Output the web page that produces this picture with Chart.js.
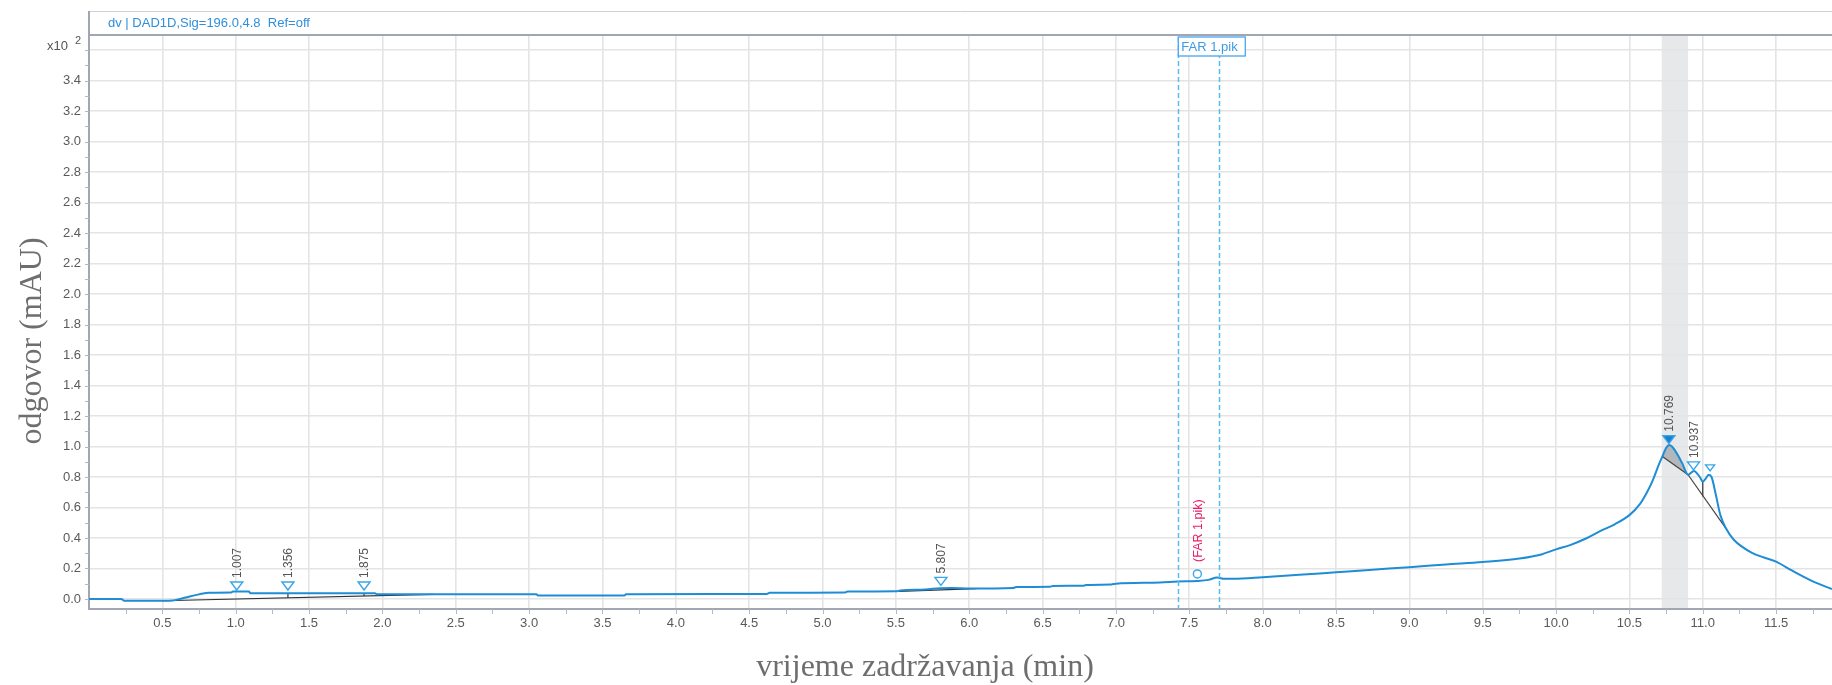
<!DOCTYPE html>
<html>
<head>
<meta charset="utf-8">
<script src="https://cdn.jsdelivr.net/npm/chart.js@4/dist/chart.umd.min.js"></script>
<style>
  html, body { margin: 0; padding: 0; background: #fff; }
  canvas { display: block; }
</style>
</head>
<body>
<canvas id="chrom" width="1832" height="685"></canvas>
<script>
// retention time (min) and detector response (x10^2 mAU)
const retentionTime = [
  0.00, 0.22, 0.24, 0.50, 0.57, 0.62, 0.68, 0.75, 0.82, 0.97,
  0.98, 1.09, 1.10, 1.95, 1.96, 3.05, 3.06, 3.65, 3.66, 4.62,
  4.64, 5.15, 5.17, 5.50, 5.53, 5.70, 5.80, 5.88, 6.00, 6.30,
  6.32, 6.55, 6.57, 6.78, 6.80, 6.97, 7.00, 7.30, 7.42, 7.55,
  7.63, 7.69, 7.74, 7.80, 8.00, 8.25, 8.50, 8.75, 9.00, 9.25,
  9.50, 9.75, 9.90, 10.00, 10.10, 10.20, 10.30, 10.40, 10.50, 10.57,
  10.62, 10.66, 10.70, 10.725, 10.75, 10.77, 10.79, 10.82, 10.86, 10.90,
  10.94, 10.98, 11.00, 11.02, 11.04, 11.06, 11.09, 11.12, 11.16, 11.21,
  11.34, 11.50, 11.61, 11.74, 11.88
];
const response = [
  0.000, 0.000, -0.012, -0.012, -0.010, 0.000, 0.015, 0.030, 0.041, 0.042,
  0.048, 0.048, 0.038, 0.038, 0.031, 0.031, 0.023, 0.023, 0.031, 0.032,
  0.040, 0.042, 0.048, 0.050, 0.056, 0.062, 0.070, 0.072, 0.068, 0.072,
  0.078, 0.080, 0.085, 0.087, 0.092, 0.095, 0.100, 0.108, 0.115, 0.118,
  0.125, 0.140, 0.132, 0.132, 0.142, 0.158, 0.175, 0.192, 0.208, 0.226,
  0.242, 0.265, 0.292, 0.325, 0.355, 0.395, 0.445, 0.490, 0.550, 0.620,
  0.700, 0.780, 0.880, 0.935, 0.990, 1.010, 1.000, 0.960, 0.890, 0.815,
  0.840, 0.800, 0.770, 0.790, 0.815, 0.800, 0.680, 0.550, 0.460, 0.390,
  0.300, 0.245, 0.185, 0.120, 0.065
];

// integration baselines [time, response]
const baselineA = [[0.50, -0.012], [2.35, 0.030]];
const baselineB = [[5.52, 0.050], [6.05, 0.068]];
const baselineC = [[10.725, 0.935], [10.90, 0.815]];
const baselineD = [[10.90, 0.815], [11.16, 0.460]];
// drop lines [time, top, bottom]
const dropLines = [[1.356, 0.038, 0.0075], [1.875, 0.038, 0.019], [11.0, 0.770, 0.672]];

// peak marks
const peakTimes = [1.007, 1.356, 1.875, 5.807, 10.769, 10.937, 11.05];
const peakMarkY = [0.085, 0.085, 0.085, 0.115, 1.045, 0.873, 0.86];
const peakLabels = ["1.007", "1.356", "1.875", "5.807", "10.769", "10.937", ""];

const farWindow = [7.425, 7.70];
const farPoint = [7.555, 0.164];
const shadedBand = [10.72, 10.90];
const integratedRange = [10.725, 10.90];

const BLUE = "#1f8dd6";
const SANS = "'Liberation Sans', Arial, sans-serif";
const SERIF = "'Liberation Serif', 'Times New Roman', serif";

const pts = (arr) => arr.map(([x, y]) => ({ x, y }));
const trace = retentionTime.map((t, i) => ({ x: t, y: response[i] }));
const peakArea = trace.filter((p) => p.x >= integratedRange[0] && p.x <= integratedRange[1]);

const lineStyle = (color, width) => ({
  borderColor: color,
  borderWidth: width,
  pointRadius: 0,
  fill: false,
  tension: 0,
});

const datasets = [
  { label: "signal", data: trace, ...lineStyle(BLUE, 2), cubicInterpolationMode: "monotone" },
  { label: "bA", data: pts(baselineA), ...lineStyle("#333", 1.2) },
  { label: "bB", data: pts(baselineB), ...lineStyle("#333", 1.2) },
  { label: "bC", data: pts(baselineC), ...lineStyle("#444", 1.2) },
  { label: "bD", data: pts(baselineD), ...lineStyle("#444", 1.2) },
  ...dropLines.map(([t, a, b]) => ({
    label: "drop",
    data: [{ x: t, y: a }, { x: t, y: b }],
    ...lineStyle("#333", 1.2),
  })),
  {
    label: "area",
    data: peakArea,
    borderColor: "rgba(0,0,0,0)",
    borderWidth: 0,
    pointRadius: 0,
    cubicInterpolationMode: "monotone",
    backgroundColor: "rgba(150,155,162,0.65)",
    fill: "shape",
  },
];

function triangle(ctx, x, y, w, h, filled) {
  ctx.beginPath();
  ctx.moveTo(x - w / 2, y - h / 2);
  ctx.lineTo(x + w / 2, y - h / 2);
  ctx.lineTo(x, y + h / 2);
  ctx.closePath();
  ctx.fillStyle = filled ? "#1a7fd0" : "#fff";
  ctx.fill();
  ctx.strokeStyle = "#3aa6e8";
  ctx.lineWidth = 1.4;
  ctx.stroke();
}

function vText(ctx, text, x, y, color, font) {
  ctx.save();
  ctx.translate(x, y);
  ctx.rotate(-Math.PI / 2);
  ctx.fillStyle = color;
  ctx.font = font;
  ctx.textAlign = "left";
  ctx.textBaseline = "middle";
  ctx.fillText(text, 0, 0);
  ctx.restore();
}

const decor = {
  id: "decor",
  beforeDraw(chart) {
    const { ctx, chartArea: a, scales } = chart;
    ctx.save();
    ctx.fillStyle = "#fff";
    ctx.fillRect(0, 0, chart.width, chart.height);
    const b0 = scales.x.getPixelForValue(shadedBand[0]);
    const b1 = scales.x.getPixelForValue(shadedBand[1]);
    ctx.fillStyle = "#e7e8ea";
    ctx.fillRect(b0, a.top + 1, b1 - b0, a.bottom - a.top - 1);
    ctx.restore();
  },
  afterDatasetsDraw(chart) {
    const { ctx, chartArea: a, scales: { x, y } } = chart;
    ctx.save();

    // FAR window
    ctx.setLineDash([5, 3]);
    ctx.strokeStyle = "#55bcf4";
    ctx.lineWidth = 1.5;
    farWindow.forEach((t) => {
      const px = Math.round(x.getPixelForValue(t)) + 0.5;
      ctx.beginPath();
      ctx.moveTo(px, a.top + 2);
      ctx.lineTo(px, a.bottom);
      ctx.stroke();
    });
    ctx.setLineDash([]);
    const fx = x.getPixelForValue(farWindow[0]);
    ctx.fillStyle = "#fff";
    ctx.fillRect(fx, a.top + 2, 67, 19);
    ctx.strokeStyle = "#45a5ee";
    ctx.lineWidth = 1.3;
    ctx.strokeRect(fx, a.top + 2, 67, 19);
    ctx.fillStyle = "#3d9be0";
    ctx.font = "13px " + SANS;
    ctx.textBaseline = "middle";
    ctx.textAlign = "left";
    ctx.fillText("FAR 1.pik", fx + 3, a.top + 12);

    // FAR point
    const cx = x.getPixelForValue(farPoint[0]);
    const cy = y.getPixelForValue(farPoint[1]);
    ctx.beginPath();
    ctx.arc(cx, cy, 4, 0, Math.PI * 2);
    ctx.fillStyle = "#fff";
    ctx.fill();
    ctx.strokeStyle = "#3aa6e8";
    ctx.lineWidth = 1.4;
    ctx.stroke();
    vText(ctx, "(FAR 1.pik)", cx + 1, cy - 12, "#e8206a", "12.5px " + SANS);

    // peak triangles and labels
    peakTimes.forEach((t, i) => {
      const px = x.getPixelForValue(t);
      const py = y.getPixelForValue(peakMarkY[i]);
      const small = peakLabels[i] === "";
      triangle(ctx, px, py, small ? 9 : 12, small ? 6 : 8, t === 10.769);
      if (peakLabels[i]) vText(ctx, peakLabels[i], px + 1, py - 8, "#555", "12px " + SANS);
    });
    ctx.restore();
  },
  afterDraw(chart) {
    const { ctx, chartArea: a, scales: { x, y } } = chart;
    ctx.save();

    // minor ticks
    ctx.strokeStyle = "#b4b8c2";
    ctx.lineWidth = 1;
    for (let v = 0; v <= 3.65; v += 0.1) {
      const py = Math.round(y.getPixelForValue(v)) + 0.5;
      ctx.beginPath();
      ctx.moveTo(a.left - 4, py);
      ctx.lineTo(a.left, py);
      ctx.stroke();
    }
    for (let v = 0.25; v <= 11.88; v += 0.25) {
      const px = Math.round(x.getPixelForValue(v)) + 0.5;
      ctx.beginPath();
      ctx.moveTo(px, a.bottom);
      ctx.lineTo(px, a.bottom + 5);
      ctx.stroke();
    }

    // title bar
    ctx.fillStyle = "#fff";
    ctx.fillRect(a.left, 11, a.right - a.left, a.top - 11);
    ctx.strokeStyle = "#cfd1d6";
    ctx.lineWidth = 1;
    ctx.beginPath();
    ctx.moveTo(a.left, 11.5);
    ctx.lineTo(a.right, 11.5);
    ctx.stroke();
    ctx.strokeStyle = "#a2a6b2";
    ctx.lineWidth = 2;
    ctx.beginPath();
    ctx.moveTo(a.left, a.top);
    ctx.lineTo(a.right, a.top);
    ctx.moveTo(a.left, 11);
    ctx.lineTo(a.left, a.top);
    ctx.stroke();
    ctx.fillStyle = "#2f8fdc";
    ctx.font = "13px " + SANS;
    ctx.textBaseline = "middle";
    ctx.textAlign = "left";
    ctx.fillText("dv | DAD1D,Sig=196.0,4.8  Ref=off", 108, 23);

    // exponent
    ctx.fillStyle = "#555";
    ctx.font = "13px " + SANS;
    ctx.fillText("x10", 47, 46);
    ctx.font = "11px " + SANS;
    ctx.fillText("2", 75, 41);

    // axis titles
    ctx.fillStyle = "#6e6e6e";
    ctx.font = "32px " + SERIF;
    ctx.textAlign = "center";
    ctx.fillText("vrijeme zadržavanja (min)", 925, 668);
    ctx.translate(33, 341);
    ctx.rotate(-Math.PI / 2);
    ctx.fillText("odgovor (mAU)", 0, 0);
    ctx.restore();
  },
};

new Chart(document.getElementById("chrom"), {
  type: "line",
  data: { datasets },
  plugins: [decor],
  options: {
    responsive: false,
    animation: false,
    events: [],
    layout: { padding: { top: 35, left: 0, right: 0, bottom: 0 } },
    plugins: { legend: { display: false }, tooltip: { enabled: false } },
    scales: {
      x: {
        type: "linear",
        min: 0,
        max: 11.881,
        afterFit: (s) => { s.height = 76; },
        border: { display: true, color: "#a2a6b2", width: 2 },
        grid: { color: "#e4e4e4", lineWidth: 1.6, drawTicks: false },
        ticks: {
          stepSize: 0.5,
          includeBounds: false,
          autoSkip: false,
          maxRotation: 0,
          padding: 7,
          color: "#5a5a5a",
          font: { family: SANS, size: 13 },
          callback: (v) => (v === 0 ? "" : Number(v).toFixed(1)),
        },
      },
      y: {
        type: "linear",
        min: -0.066,
        max: 3.70,
        afterFit: (s) => { s.width = 89; },
        border: { display: true, color: "#a2a6b2", width: 2 },
        grid: { color: "#e4e4e4", lineWidth: 1.6, drawTicks: false },
        ticks: {
          stepSize: 0.2,
          includeBounds: false,
          autoSkip: false,
          padding: 8,
          color: "#5a5a5a",
          font: { family: SANS, size: 13 },
          callback: (v) => (Math.abs(v - 3.6) < 1e-6 ? "" : Number(v).toFixed(1)),
        },
      },
    },
  },
});
</script>
</body>
</html>
